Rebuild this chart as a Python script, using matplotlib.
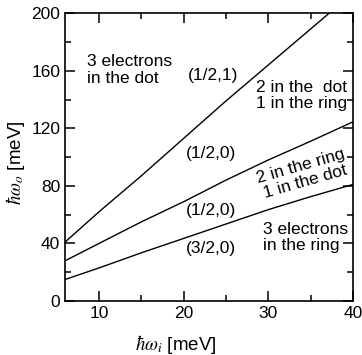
import numpy as np
import matplotlib
matplotlib.use("Agg")
import matplotlib.pyplot as plt
from matplotlib.ticker import MultipleLocator

plt.rcParams['font.family'] = ['Liberation Sans', 'DejaVu Sans']
plt.rcParams['mathtext.fontset'] = 'stix'

# datos (hbar w_i, hbar w_o) en meV
x1 = [6, 10, 15, 20, 25, 30, 35, 37.2]
y1 = [41, 62, 87, 113, 139, 164, 189, 200]
x2 = [6, 10, 15, 20, 25, 30, 35, 40]
y2 = [28, 40, 55, 69, 84, 98, 111, 124.5]
x3 = [6, 10, 15, 20, 25, 30, 35, 40]
y3 = [15, 23, 33.5, 43.5, 53.5, 63.5, 72.5, 81]

fig = plt.figure(figsize=(3.62, 3.55), dpi=100)
ax = fig.add_axes([0.18, 0.152, 0.795, 0.811])

for xs, ys in [(x1, y1), (x2, y2), (x3, y3)]:
    ax.plot(xs, ys, color='black', lw=1.0)

ax.set_xlim(6, 40)
ax.set_ylim(0, 200)
ax.xaxis.set_major_locator(MultipleLocator(10))
ax.xaxis.set_minor_locator(MultipleLocator(5))
ax.yaxis.set_major_locator(MultipleLocator(40))
ax.yaxis.set_minor_locator(MultipleLocator(20))
ax.tick_params(which='both', direction='in', top=True, right=True,
               width=1.1, labelsize=12.5)
ax.tick_params(which='major', length=7)
ax.tick_params(which='minor', length=4)
for s in ax.spines.values():
    s.set_linewidth(1.2)

ax.set_xlabel(r'$\hbar\omega_i$ [meV]', fontsize=13.5)
ax.set_ylabel(r'$\hbar\omega_o$ [meV]', fontsize=13.5)
ax.xaxis.set_label_coords(0.385, -0.112)
ax.yaxis.set_label_coords(-0.132, 0.479)

fs = 12.5
ax.text(8.6, 160.5, '3 electrons\nin the dot', fontsize=fs, va='center', linespacing=1.1)
ax.text(23.5, 157, '(1/2,1)', fontsize=fs, ha='center', va='center')
ax.text(28.6, 143, '2 in the  dot\n1 in the ring', fontsize=fs, va='center', linespacing=1.1)
ax.text(23.2, 102.5, '(1/2,0)', fontsize=fs, ha='center', va='center')
ax.text(34.1, 88.5, '2 in the ring\n1 in the dot', fontsize=fs, ha='center', va='center',
        rotation=16, linespacing=1.1)
ax.text(23.2, 62.7, '(1/2,0)', fontsize=fs, ha='center', va='center')
ax.text(23.2, 36.6, '(3/2,0)', fontsize=fs, ha='center', va='center')
ax.text(29.4, 44, '3 electrons\nin the ring', fontsize=fs, va='center', linespacing=1.1)

plt.savefig('out.png', dpi=100)
